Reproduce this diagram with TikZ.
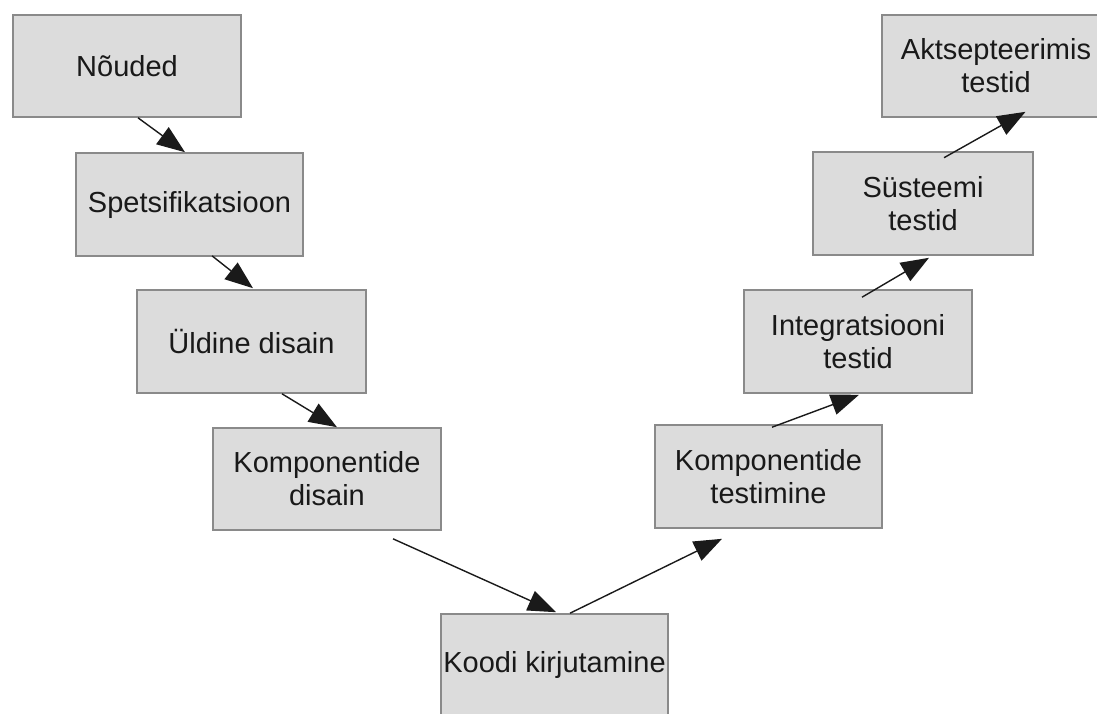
\documentclass[tikz,border=0pt]{standalone}
\usepackage{fontspec}
\setmainfont{Liberation Sans}
\usetikzlibrary{arrows.meta}
\definecolor{boxfill}{HTML}{DCDCDC}
\definecolor{boxline}{HTML}{8A8A8A}
\definecolor{arrowcol}{HTML}{1A1A1A}
\tikzset{
  stage/.style={draw=boxline, fill=boxfill, line width=1.6pt, minimum width=228pt,
    minimum height=102pt, inner sep=0pt, align=center, text=black!90,
    font=\fontsize{29pt}{33pt}\selectfont},
  flow/.style={draw=arrowcol, line width=1.4pt,
    -{Triangle[length=28pt,width=21pt]}}
}
\begin{document}
\begin{tikzpicture}[x=1pt,y=-1pt]
\useasboundingbox (0,0) rectangle (1097,713);
\clip (0,0) rectangle (1097,713);
\fill[white] (0,0) rectangle (1097,713);
\node[stage] (n1) at (127,66) {Nõuded};
\node[stage, minimum width=227pt, minimum height=103pt] (n2) at (189.5,204.5) {Spetsifikatsioon};
\node[stage, minimum width=229pt, minimum height=103pt] (n3) at (251.5,341.5) {Üldine disain};
\node[stage] (n4) at (327,479) {Komponentide\\disain};
\node[stage, minimum width=227pt] (n5) at (554.5,665) {Koodi kirjutamine};
\node[stage, minimum width=227pt, minimum height=103pt] (n6) at (768.5,476.5) {Komponentide\\testimine};
\node[stage, minimum height=103pt] (n7) at (858,341.5) {Integratsiooni\\testid};
\node[stage, minimum width=220pt, minimum height=103pt] (n8) at (923,203.5) {Süsteemi\\testid};
\node[stage] (n9) at (996,66) {Aktsepteerimis\\testid};

\draw[flow] ([xshift=11pt]n1.south) -- ([xshift=-4.5pt]n2.north);
\draw[flow] ([xshift=22.5pt,yshift=1pt]n2.south) -- ([xshift=1.5pt,yshift=1pt]n3.north);
\draw[flow] ([xshift=30.5pt]n3.south) -- ([xshift=10pt]n4.north);
\draw[flow] ([xshift=66pt,yshift=-8pt]n4.south) -- ([xshift=1.5pt,yshift=1pt]n5.north);
\draw[flow] ([xshift=15.5pt]n5.north) -- ([xshift=-46.5pt,yshift=-10pt]n6.south);
\draw[flow] ([xshift=3.5pt,yshift=-3pt]n6.north) -- ([xshift=1pt,yshift=-1pt]n7.south);
\draw[flow] ([xshift=4pt,yshift=-8pt]n7.north) -- ([xshift=6pt,yshift=-2pt]n8.south);
\draw[flow] ([xshift=21pt,yshift=-6.5pt]n8.north) -- ([xshift=29.5pt,yshift=6pt]n9.south);
\end{tikzpicture}
\end{document}
